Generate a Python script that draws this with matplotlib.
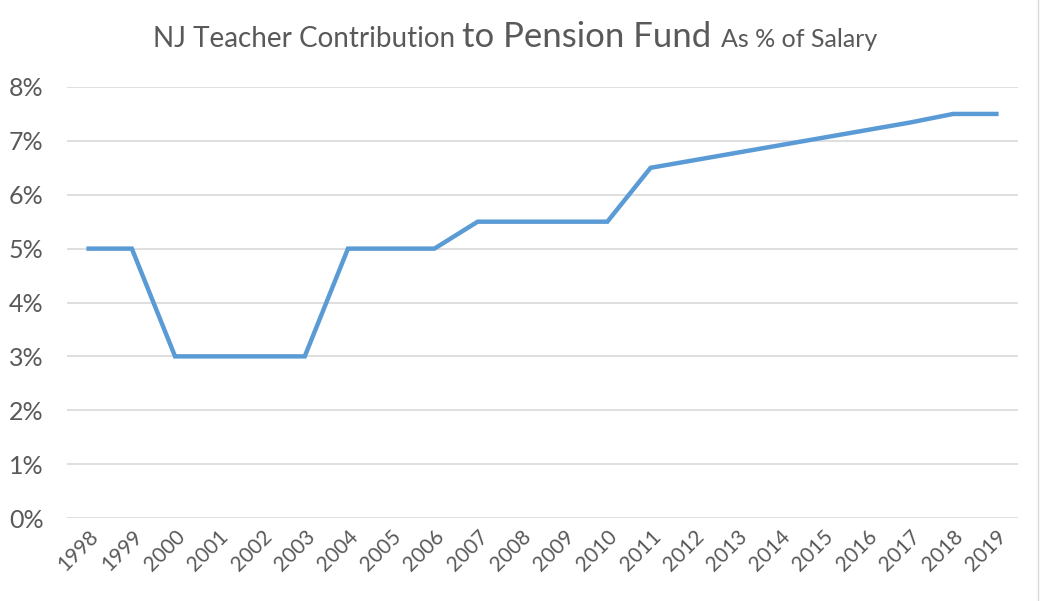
import matplotlib
matplotlib.use("Agg")
import matplotlib.pyplot as plt

years = ["1998", "1999", "2000", "2001", "2002", "2003", "2004", "2005", "2006", "2007", "2008",
         "2009", "2010", "2011", "2012", "2013", "2014", "2015", "2016", "2017", "2018", "2019"]
contribution = [5.0, 5.0, 3.0, 3.0, 3.0, 3.0, 5.0, 5.0, 5.0, 5.5, 5.5,
                5.5, 5.5, 6.5, 6.64, 6.78, 6.92, 7.06, 7.2, 7.34, 7.5, 7.5]
y_ticks = [0, 1, 2, 3, 4, 5, 6, 7, 8]
y_labels = ["0%", "1%", "2%", "3%", "4%", "5%", "6%", "7%", "8%"]

plt.rcParams['font.family'] = ['Lato', 'DejaVu Sans']
fig = plt.figure(figsize=(10.4, 6.01), dpi=100)
ax = fig.add_axes([67/1040, 1-518/601, (1018-67)/1040, (518-87)/601])

x = list(range(len(years)))
ax.plot(x, contribution, color="#5B9BD5", lw=3.2, solid_joinstyle="miter", zorder=3)
ax.set_xlim(-0.5, len(years)-0.5)
ax.set_ylim(0, 8)
ax.set_yticks(y_ticks)
ax.set_yticklabels(y_labels, fontsize=18, color="#595959")
ax.set_xticks(x)
ax.set_xticklabels(years, rotation=45, ha="right", rotation_mode="anchor", fontsize=15, color="#595959")
ax.tick_params(length=0)
ax.tick_params(axis="y", pad=17)
ax.tick_params(axis="x", pad=6)
ax.grid(axis="y", color="#D9D9D9", lw=1.2)
ax.set_axisbelow(True)
for s in ax.spines.values():
    s.set_visible(False)

# light chart border on the right
fig.add_artist(plt.Line2D([1038/1040, 1038/1040], [0, 1], color="#D9D9D9", lw=1))

# mixed-size title
parts = [("NJ Teacher Contribution ", 20), ("to Pension Fund ", 25), ("As % of Salary", 18)]
fig.canvas.draw()
r = fig.canvas.get_renderer()
texts = []
xpos = 142/1040
for t, s in parts:
    tx = fig.text(xpos, 1-47/601, t, fontsize=s, color="#595959", ha="left", va="baseline")
    xpos += tx.get_window_extent(renderer=r).width / fig.bbox.width
    texts.append(tx)
total = xpos - 142/1040
xpos = 0.5*(142+888)/1040 - total/2
for tx in texts:
    tx.set_x(xpos)
    xpos += tx.get_window_extent(renderer=r).width / fig.bbox.width

fig.savefig("out.png", dpi=100)
